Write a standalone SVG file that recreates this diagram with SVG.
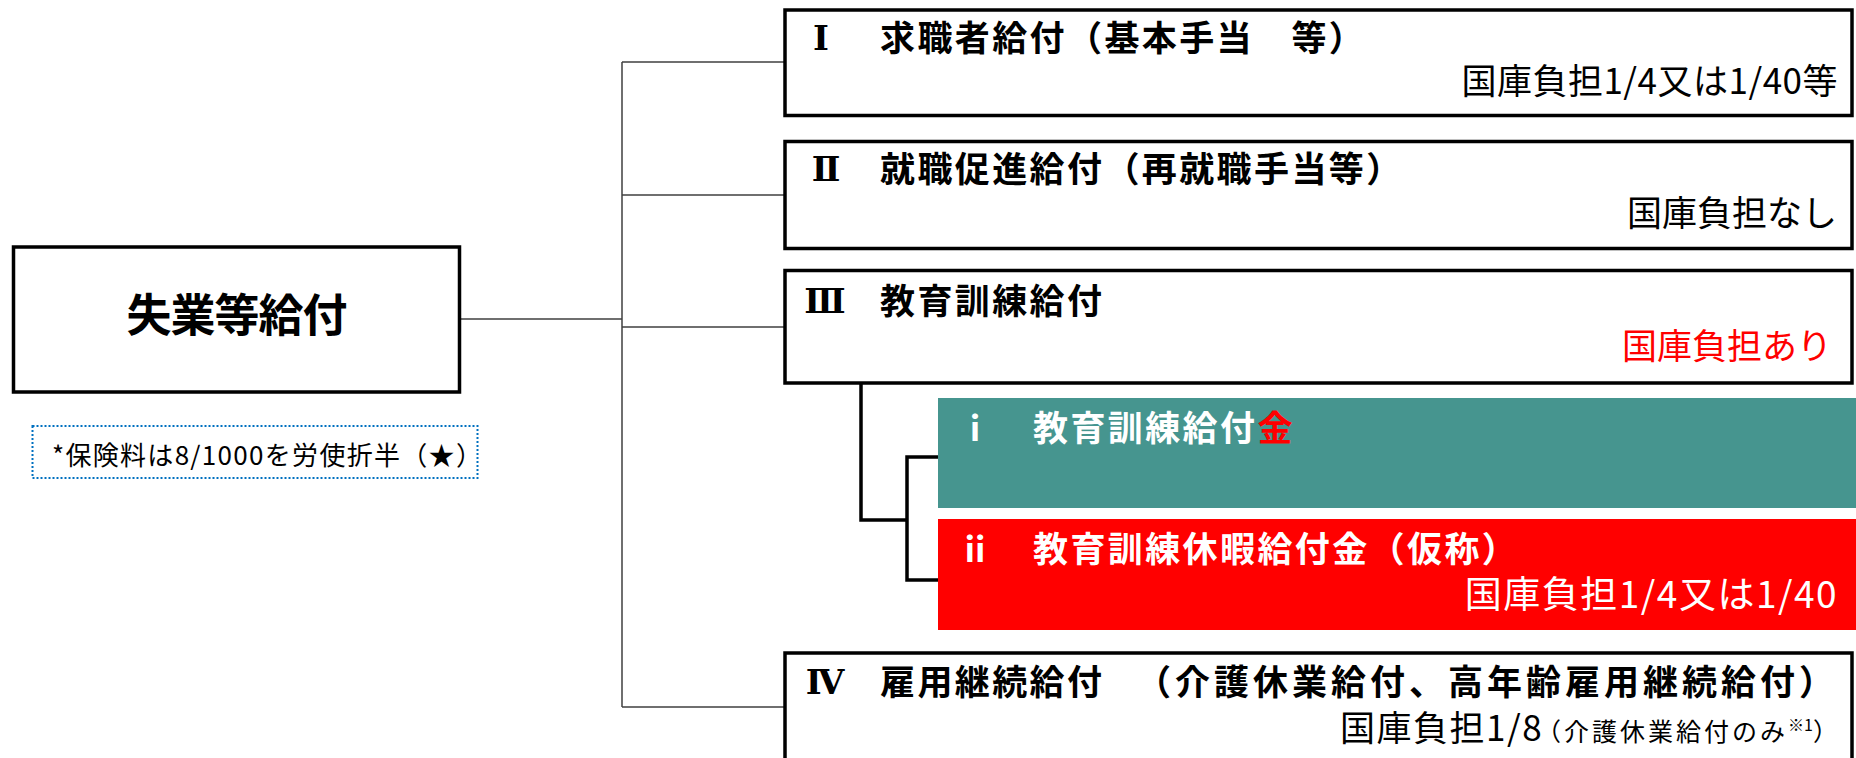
<svg xmlns="http://www.w3.org/2000/svg" width="1856" height="758" viewBox="0 0 1856 758">
<style>
text { font-family: "Noto Sans CJK JP", "Noto Sans", sans-serif; }
.box { fill: #ffffff; stroke: #000000; stroke-width: 3.5; }
.thin { fill: none; stroke: #404040; stroke-width: 1.5; }
.thick { fill: none; stroke: #000000; stroke-width: 3.5; }
.ttl { font-size: 35px; font-weight: bold; fill: #000000; letter-spacing: 2.4px; }
.num { font-family: "DejaVu Serif", "Noto Sans CJK JP", serif; font-size: 34px; font-weight: bold; fill: #000000; text-anchor: middle; }
.sml { font-size: 34px; font-weight: bold; fill: #ffffff; text-anchor: middle; }
.sub { font-size: 35px; fill: #000000; text-anchor: end; }
</style>
<rect width="1856" height="758" fill="#ffffff"/>

<g id="connectors">
  <path class="thin" d="M460 319 H622 M622 62 V707 M622 62 H785 M622 195 H785 M622 327 H785 M622 707 H785"/>
  <path class="thick" d="M861 383 V520 H907 M938 457 H907 V580 H938"/>
</g>

<g id="main">
  <rect class="box" x="13.5" y="247" width="446" height="145"/>
  <text x="236.5" y="332" font-size="45" font-weight="bold" text-anchor="middle" letter-spacing="-1">失業等給付</text>
</g>

<g id="note">
  <rect x="32.5" y="426" width="445" height="52" fill="none" stroke="#0070C0" stroke-width="2" stroke-dasharray="2 2"/>
  <text x="52" y="465" font-size="26" letter-spacing="1.3" fill="#000000">*保険料は8/1000を労使折半（★）</text>
</g>

<g id="box1">
  <rect class="box" x="785" y="10" width="1067" height="105.5"/>
  <text class="num" x="821" y="50">Ⅰ</text>
  <text class="ttl" x="880" y="51">求職者給付（基本手当　等）</text>
  <text class="sub" x="1838" y="94" letter-spacing="0.5">国庫負担1/4又は1/40等</text>
</g>

<g id="box2">
  <rect class="box" x="785" y="141.5" width="1067" height="107"/>
  <text class="num" x="826" y="181">Ⅱ</text>
  <text class="ttl" x="880" y="182">就職促進給付（再就職手当等）</text>
  <text class="sub" x="1837" y="226">国庫負担なし</text>
</g>

<g id="box3">
  <rect class="box" x="785" y="270.5" width="1067" height="112.5"/>
  <text class="num" x="825" y="313">Ⅲ</text>
  <text class="ttl" x="880" y="314">教育訓練給付</text>
  <text class="sub" x="1832" y="359" style="fill:#ff0000">国庫負担あり</text>
</g>

<g id="box3-i">
  <rect x="938" y="398" width="918" height="110" fill="#46958F"/>
  <text class="sml" x="975" y="441">ⅰ</text>
  <text class="ttl" x="1033" y="441" style="fill:#ffffff">教育訓練給付<tspan style="fill:#ff0000">金</tspan></text>
</g>

<g id="box3-ii">
  <rect x="938" y="519" width="918" height="111" fill="#ff0000"/>
  <text class="sml" x="975" y="562">ⅱ</text>
  <text class="ttl" x="1033" y="562" style="fill:#ffffff">教育訓練休暇給付金（仮称）</text>
  <text class="sub" x="1838" y="608" letter-spacing="1.5" style="fill:#ffffff;font-size:37px">国庫負担1/4又は1/40</text>
</g>

<g id="box4">
  <rect class="box" x="785" y="653" width="1067" height="130"/>
  <text class="num" x="825" y="694">Ⅳ</text>
  <text class="ttl" x="880" y="695">雇用継続給付　<tspan x="1136" letter-spacing="4">（介護休業給付、高年齢雇用継続給付）</tspan></text>
  <text x="1340" y="741" font-size="35" letter-spacing="1.5" fill="#000000">国庫負担1/8<tspan x="1536" font-size="25" letter-spacing="3">（介護休業給付のみ</tspan><tspan font-size="16" letter-spacing="0" dy="-10">※1</tspan><tspan font-size="25" letter-spacing="0" dy="10">）</tspan></text>
</g>
</svg>
